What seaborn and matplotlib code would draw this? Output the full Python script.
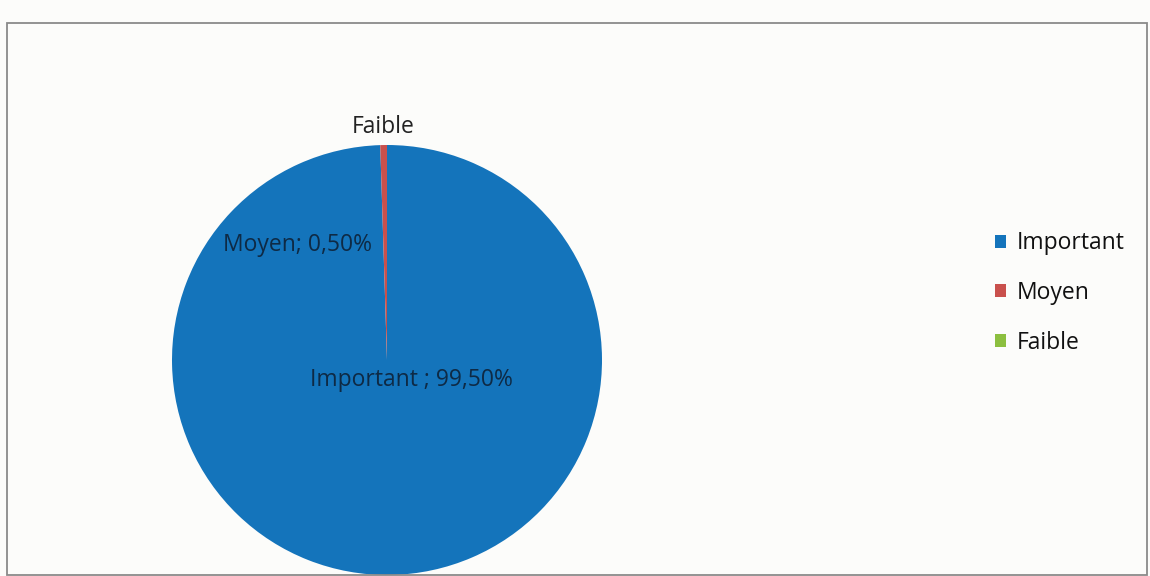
import matplotlib
matplotlib.use("Agg")
import matplotlib.pyplot as plt
import seaborn as sns
from matplotlib.patches import Rectangle

categories = ["Important", "Moyen", "Faible"]
values = [99.5, 0.5, 0.0]
value_labels = ["Important ; 99,50%", "Moyen; 0,50%", "Faible"]
colors = ["#1474bb", "#c9504c", "#8cbf3f"]

sns.set_theme(style="white")
plt.rcParams['font.family'] = ['Open Sans', 'DejaVu Sans']

fig = plt.figure(figsize=(11.5, 5.76), dpi=100)
fig.patch.set_facecolor("#fcfcfa")

# frame
fig.patches.append(Rectangle((7/1150, 1 - 575/576), 1140/1150, 552/576,
                             transform=fig.transFigure, fill=False,
                             edgecolor="#8a8a8a", linewidth=1.3))

ax = fig.add_axes([(387-215)/1150, (576-575)/576, 430/1150, 430/576])
ax.set_facecolor("none")
wedges, _ = ax.pie(values, colors=colors, startangle=90, counterclock=False,
                   radius=1, wedgeprops=dict(linewidth=0))
ax.set_xlim(-1, 1)
ax.set_ylim(-1, 1)
ax.set_aspect("equal")
ax.axis("off")

# data labels
pos = {"Important": (0.115, -0.095), "Moyen": (-0.415, 0.535), "Faible": (-0.02, 1.085)}
for cat, lab in zip(categories, value_labels):
    x, y = pos[cat]
    ax.text(x, y, lab, ha="center", va="center", fontsize=16.5,
            color="#222222" if cat == "Faible" else "#0e2a45", clip_on=False)

leg = fig.legend(wedges, categories, loc="center left",
                 bbox_to_anchor=(974/1150, 1 - 293/576), frameon=False,
                 fontsize=16.5, handlelength=0.48, handleheight=0.48,
                 handletextpad=0.5, labelspacing=1.12)
for t in leg.get_texts():
    t.set_color("#111111")

fig.savefig("out.png", dpi=100, facecolor=fig.get_facecolor())
